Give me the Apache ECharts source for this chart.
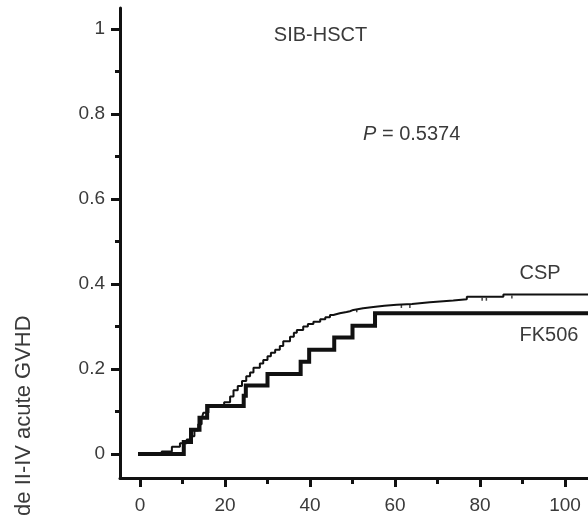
<!DOCTYPE html>
<html><head><meta charset="utf-8">
<script src="https://cdn.jsdelivr.net/npm/echarts@6/dist/echarts.min.js"></script>
<style>html,body{margin:0;padding:0;background:#fff}#c{width:588px;height:516px}</style>
</head><body><div id="c"></div>
<script>
// ---- data ----
const xMajorTicks = [0, 20, 40, 60, 80, 100];
const xMinorTicks = [10, 30, 50, 70, 90];
const yMajorTicks = [0, 0.2, 0.4, 0.6, 0.8, 1];
const yMinorTicks = [0.1, 0.3, 0.5, 0.7, 0.9];

const fkTimes  = [0, 10.3, 12.0, 14.0, 15.8, 24.4, 24.9, 30.0, 37.8, 39.8, 45.7, 50.0, 55.3, 106];
const fkValues = [0, 0.028, 0.057, 0.085, 0.113, 0.137, 0.161, 0.188, 0.217, 0.245, 0.274, 0.302, 0.331, 0.331];

const cspTimes  = [0, 5.1, 7.5, 9.4, 11.0, 11.8, 12.8, 13.7, 14.5, 14.9, 16.1, 19.8, 21.2, 22.0, 23.0, 24.0, 25.0, 25.9, 26.7, 28.2, 29.0, 30.0, 30.8, 31.8, 32.9, 33.7, 35.3, 36.2, 36.9, 38.4, 39.5, 40.8, 42.4, 43.6, 44.7, 45.5, 47.0, 48.6, 49.4, 50.2, 52.5, 54.9, 57.5, 60.4, 64.0, 68.2, 73.7, 76.9, 85.5, 106];
const cspValues = [0, 0.006, 0.017, 0.025, 0.034, 0.042, 0.055, 0.070, 0.083, 0.097, 0.113, 0.122, 0.135, 0.150, 0.160, 0.172, 0.183, 0.192, 0.203, 0.213, 0.221, 0.230, 0.238, 0.245, 0.254, 0.265, 0.276, 0.285, 0.292, 0.300, 0.306, 0.311, 0.317, 0.322, 0.327, 0.331, 0.334, 0.336, 0.339, 0.343, 0.346, 0.349, 0.351, 0.353, 0.357, 0.361, 0.364, 0.370, 0.375, 0.375];

// censored observations (small tick marks) on the CSP curve
const cspCensorTimes  = [51.0, 61.5, 63.5, 80.5, 81.5, 87.5];
const cspCensorValues = [0.343, 0.353, 0.353, 0.370, 0.370, 0.375];

const seriesNames = ['CSP', 'FK506'];
const panelTitle = 'SIB-HSCT';
const pValueText = '0.5374';
const yAxisTitle = 'Grade II-IV acute GVHD';

// ---- chart ----
const FONT = 'Liberation Sans, Arial, sans-serif';
const INK = '#111';
const TXT = '#3a3a3a';
const xMin = -4.706, xMax = 105.41, yMin = -0.0565, yMax = 1.0494;

const zip = (a, b) => a.map((v, i) => [v, b[i]]);

const chart = echarts.init(document.getElementById('c'), null, {renderer: 'canvas'});
chart.setOption({
  animation: false,
  backgroundColor: '#fff',
  grid: {left: 120, right: 0, top: 8, bottom: 38, containLabel: false, outerBoundsMode: 'none'},
  xAxis: [
    {type: 'value', min: xMin, max: xMax, position: 'bottom',
     axisLine: {show: true, onZero: false, lineStyle: {color: INK, width: 3}},
     axisTick: {show: true, customValues: xMajorTicks, length: 9, lineStyle: {color: INK, width: 3}},
     axisLabel: {show: true, customValues: xMajorTicks, margin: 18, fontSize: 19, color: TXT, fontFamily: FONT},
     splitLine: {show: false}},
    {type: 'value', min: xMin, max: xMax, position: 'bottom',
     axisLine: {show: false, onZero: false},
     axisTick: {show: true, customValues: xMinorTicks, length: 6, lineStyle: {color: INK, width: 3}},
     axisLabel: {show: false}, splitLine: {show: false}}
  ],
  yAxis: [
    {type: 'value', min: yMin, max: yMax, position: 'left',
     axisLine: {show: true, onZero: false, lineStyle: {color: INK, width: 3}},
     axisTick: {show: true, customValues: yMajorTicks, length: 9, lineStyle: {color: INK, width: 3}},
     axisLabel: {show: true, customValues: yMajorTicks, margin: 15, fontSize: 19, color: TXT, fontFamily: FONT,
                 formatter: v => String(+(+v).toFixed(1))},
     splitLine: {show: false}},
    {type: 'value', min: yMin, max: yMax, position: 'left',
     axisLine: {show: false, onZero: false},
     axisTick: {show: true, customValues: yMinorTicks, length: 5, lineStyle: {color: INK, width: 3}},
     axisLabel: {show: false}, splitLine: {show: false}}
  ],
  series: [
    {name: seriesNames[1], type: 'line', step: 'end', xAxisIndex: 0, yAxisIndex: 0,
     data: zip(fkTimes, fkValues), showSymbol: false, symbol: 'none',
     lineStyle: {color: INK, width: 4, cap: 'square', join: 'miter'}, silent: true},
    {name: seriesNames[0], type: 'line', step: 'end', xAxisIndex: 0, yAxisIndex: 0,
     data: zip(cspTimes, cspValues), showSymbol: false, symbol: 'none',
     lineStyle: {color: INK, width: 2}, silent: true},
    {name: seriesNames[0] + ' censored', type: 'scatter', xAxisIndex: 0, yAxisIndex: 0,
     data: zip(cspCensorTimes, cspCensorValues), symbol: 'rect', symbolSize: [1.5, 3], symbolOffset: [0, 2.5],
     itemStyle: {color: INK}, silent: true}
  ],
  graphic: [
    {type: 'text', x: 320.5, y: 35, style: {text: panelTitle, font: '20px ' + FONT, fill: TXT, align: 'center', verticalAlign: 'middle'}},
    {type: 'text', x: 363, y: 134, style: {
      text: '{i|P} = ' + pValueText, fill: TXT, align: 'left', verticalAlign: 'middle',
      font: '20px ' + FONT,
      rich: {i: {fontStyle: 'italic', fontSize: 20, fontFamily: FONT, fill: TXT}}}},
    {type: 'text', x: 540, y: 273, style: {text: seriesNames[0], font: '20px ' + FONT, fill: TXT, align: 'center', verticalAlign: 'middle'}},
    {type: 'text', x: 549, y: 335, style: {text: seriesNames[1], font: '20px ' + FONT, fill: TXT, align: 'center', verticalAlign: 'middle'}},
    {type: 'text', x: 24, y: 434, rotation: Math.PI / 2, style: {text: yAxisTitle, font: '22px ' + FONT, fill: TXT, align: 'center', verticalAlign: 'middle'}}
  ]
});
</script>
</body></html>
